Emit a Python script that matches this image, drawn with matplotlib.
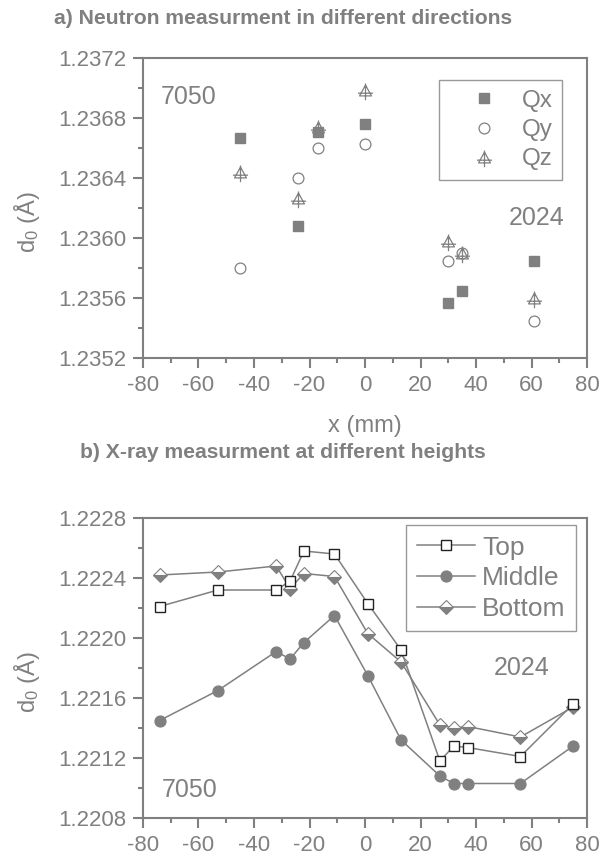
import matplotlib
matplotlib.use("Agg")
import matplotlib.pyplot as plt
from matplotlib.path import Path
from matplotlib.ticker import MultipleLocator, FormatStrFormatter

plt.rcParams['font.family'] = ['Liberation Sans', 'DejaVu Sans']
plt.rcParams['mathtext.fontset'] = 'custom'
plt.rcParams['mathtext.rm'] = 'Liberation Sans'
plt.rcParams['mathtext.it'] = 'Liberation Sans:italic'
plt.rcParams['axes.unicode_minus'] = False
G = '#808080'
plt.rcParams['text.color'] = G
plt.rcParams['axes.labelcolor'] = G
plt.rcParams['xtick.color'] = G
plt.rcParams['ytick.color'] = G
plt.rcParams['axes.edgecolor'] = G

# a) neutron data
xn = [-45, -24, -17, 0, 30, 35, 61]
qx = [1.23667, 1.23608, 1.23671, 1.23676, 1.23557, 1.23565, 1.23585]
qy = [1.23580, 1.23640, 1.23660, 1.23663, 1.23585, 1.23590, 1.23545]
qz = [1.23644, 1.23627, 1.23674, 1.23699, 1.23598, 1.23590, 1.23560]

# b) x-ray data
xr = [-74, -53, -32, -27, -22, -11, 1, 13, 27, 32, 37, 56, 75]
top = [1.22221, 1.22232, 1.22232, 1.22238, 1.22258, 1.22256, 1.22223, 1.22192,
       1.22118, 1.22128, 1.22127, 1.22121, 1.22156]
middle = [1.22145, 1.22165, 1.22191, 1.22186, 1.22197, 1.22215, 1.22175, 1.22132,
          1.22108, 1.22103, 1.22103, 1.22103, 1.22128]
bottom = [1.22242, 1.22244, 1.22248, 1.22233, 1.22243, 1.22241, 1.22203, 1.22184,
          1.22142, 1.22140, 1.22141, 1.22134, 1.22154]

# triangle with a cross, for Qz
tri = Path([(0, 0.5), (-0.55, -0.5), (0.55, -0.5), (0, 0.5),
            (0, 0.65), (0, -0.9), (-0.7, -0.25), (0.7, -0.25)],
           [Path.MOVETO, Path.LINETO, Path.LINETO, Path.LINETO,
            Path.MOVETO, Path.LINETO, Path.MOVETO, Path.LINETO])

fig = plt.figure(figsize=(6.16, 8.59), dpi=100)
W, H = 616, 859
ax1 = fig.add_axes([143 / W, 1 - 358 / H, 444 / W, 300 / H])
ax2 = fig.add_axes([143 / W, 1 - 818 / H, 444 / W, 300 / H])

def style(ax, ylo, yhi):
    ax.set_xlim(-80, 80)
    ax.set_ylim(ylo, yhi)
    ax.xaxis.set_major_locator(MultipleLocator(20))
    ax.xaxis.set_minor_locator(MultipleLocator(10))
    ax.yaxis.set_major_locator(MultipleLocator(0.0004))
    ax.yaxis.set_minor_locator(MultipleLocator(0.0002))
    ax.yaxis.set_major_formatter(FormatStrFormatter('%.4f'))
    ax.tick_params(which='major', direction='out', length=7, width=1.5, labelsize=16, pad=5)
    ax.tick_params(which='minor', direction='out', length=3.5, width=1.5)
    for s in ax.spines.values():
        s.set_linewidth(1.5)
    ax.set_ylabel('d$_0$ (Å)', fontsize=17)
    ax.yaxis.set_label_coords(-(143 - 42) / 444, 0.5 - 14 / 300)

style(ax1, 1.2352, 1.2372)
ax1.plot(xn, qx, 's', color=G, ms=7.3, mec=G, label='Qx')
ax1.plot(xn, qy, 'o', mfc='white', mec=G, ms=7.8, mew=0.9, label='Qy')
ax1.plot(xn, qz, marker=tri, ls='none', mfc='none', mec=G, ms=14, mew=0.9, label='Qz')
ax1.set_xlabel('x (mm)', fontsize=17, labelpad=14)
leg = ax1.legend(loc='upper left', bbox_to_anchor=(439 / W, 1 - 80 / H),
                 bbox_transform=fig.transFigure, borderaxespad=0, fontsize=17.5,
                 frameon=True, fancybox=False, edgecolor=G, handlelength=2.9,
                 handletextpad=0.1, borderpad=0.4, labelspacing=0.3)
leg.get_frame().set_linewidth(1)
fig.text(161 / W, 1 - 97 / H, '7050', fontsize=18, va='center')
fig.text(565 / W, 1 - 218 / H, '2024', fontsize=18, va='center', ha='right')

style(ax2, 1.2208, 1.2228)
ax2.plot(xr, top, '-s', color=G, lw=1.1, ms=7.5, mfc='white', mec='#222222', mew=1, label='Top', zorder=3)
ax2.plot(xr, middle, '-o', color=G, lw=1.1, ms=7.8, mfc=G, mec=G, label='Middle')
ax2.plot(xr, bottom, '-D', color=G, lw=1.1, ms=7.5, fillstyle='bottom', mfc=G,
         mfcalt='white', mec=G, mew=0.8, label='Bottom')
leg2 = ax2.legend(loc='upper left', bbox_to_anchor=(406 / W, 1 - 525 / H),
                  bbox_transform=fig.transFigure, borderaxespad=0, fontsize=19,
                  frameon=True, fancybox=False, edgecolor=G, handlelength=2.2,
                  borderpad=0.4, labelspacing=0.25, handletextpad=0.28)
leg2.get_frame().set_linewidth(1)
fig.text(494 / W, 1 - 668 / H, '2024', fontsize=18, va='center')
fig.text(162 / W, 1 - 790 / H, '7050', fontsize=18, va='center')

fig.text(283 / W, 1 - 18 / H, 'a) Neutron measurment in different directions',
         fontsize=15.2, fontweight='bold', ha='center', va='center')
fig.text(283 / W, 1 - 453 / H, 'b) X-ray measurment at different heights',
         fontsize=15.2, fontweight='bold', ha='center', va='center')

fig.savefig('out.png', dpi=100)
